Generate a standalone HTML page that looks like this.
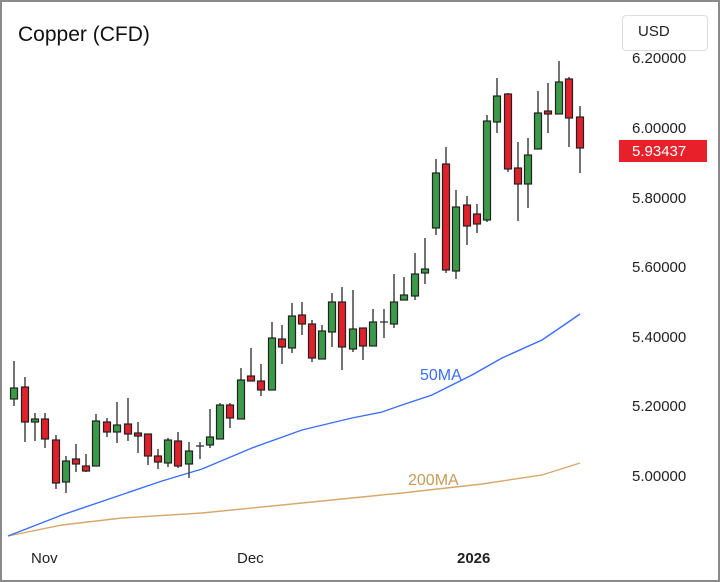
<!DOCTYPE html><html><head><style>
body{margin:0;background:#fff}
.w{position:relative;width:716px;height:578px;border:2px solid #8a8a8a;overflow:hidden;font-family:"Liberation Sans",sans-serif}
.t{position:absolute;font-size:15px;color:#222}
</style></head><body><div class="w">
<div class="t" style="left:16px;top:21px;font-size:21px;color:#111">Copper (CFD)</div>
<div style="position:absolute;left:620px;top:13px;width:84px;height:34px;border:1px solid #ddd;border-radius:4px"></div>
<div class="t" style="left:636px;top:21px">USD</div>
<div class="t" style="left:630px;top:48px">6.20000</div>
<div class="t" style="left:630px;top:118px">6.00000</div>
<div class="t" style="left:630px;top:188px">5.80000</div>
<div class="t" style="left:630px;top:257px">5.60000</div>
<div class="t" style="left:630px;top:327px">5.40000</div>
<div class="t" style="left:630px;top:396px">5.20000</div>
<div class="t" style="left:630px;top:466px">5.00000</div>
<div style="position:absolute;left:617px;top:138px;width:88px;height:22px;background:#e8202a"></div>
<div class="t" style="left:630px;top:141px;color:#fff">5.93437</div>
<div class="t" style="left:29px;top:548px">Nov</div>
<div class="t" style="left:235px;top:548px">Dec</div>
<div class="t" style="left:455px;top:548px;font-weight:bold">2026</div>
<svg width="716" height="578" style="position:absolute;left:0;top:0">
<polyline fill="none" stroke="#d4a86a" stroke-width="1.4" points="6,534 60,523 120,516 200,511 300,501 400,491 480,482 540,473 578,461"/>
<polyline fill="none" stroke="#3b6ef5" stroke-width="1.4" points="6,534 60,513 110,496 160,479 200,467 250,446 300,428 350,416 380,410 400,403 430,393 470,373 500,356 540,338 565,321 578,312"/>
<text x="418" y="378" fill="#3b6ef5" font-size="16" font-family="Liberation Sans">50MA</text>
<text x="406" y="483" fill="#c99a5a" font-size="16" font-family="Liberation Sans">200MA</text>
<g id="c"></g>
</svg>
<script>
var d=[[14,388,399,361,406,1],[25,387,422,377,442,0],[35,419,422,413,441,1],[45,419,439,413,448,0],[56,440,483,435,489,0],[66,461,482,456,493,1],[76,459,464,444,472,0],[86,466,471,454,472,0],[96,421,466,414,466,1],[107,422,432,418,437,0],[117,425,432,402,443,1],[128,424,434,398,441,0],[138,433,436,422,453,0],[148,434,456,434,465,0],[158,456,462,449,469,0],[168,440,463,438,467,1],[178,441,466,432,468,0],[189,451,464,442,478,1],[200,446,447,442,459,2],[210,437,445,409,448,1],[220,405,439,403,439,1],[230,405,418,403,428,0],[241,380,419,368,419,1],[251,376,381,348,381,0],[261,381,390,364,396,0],[272,338,390,322,390,1],[282,339,347,325,364,0],[292,316,348,303,353,1],[302,315,324,302,335,0],[312,324,358,320,362,0],[322,331,359,325,359,1],[332,302,332,293,347,1],[342,302,347,287,370,0],[353,329,349,290,352,1],[363,328,346,328,360,0],[373,322,346,309,346,1],[384,322,323,309,338,2],[394,302,324,274,328,1],[404,295,300,277,300,1],[415,274,296,253,300,1],[425,269,273,238,284,1],[436,173,228,159,235,1],[446,164,270,147,273,0],[456,207,271,190,279,1],[467,205,226,196,245,0],[477,214,224,204,233,0],[487,121,220,115,222,1],[497,96,122,78,133,1],[508,94,169,93,172,0],[518,168,184,142,221,0],[528,155,184,138,208,1],[538,113,149,91,149,1],[548,111,114,83,133,0],[559,82,114,61,114,1],[569,79,118,77,147,0],[580,117,148,106,173,0]];
var s='';d.forEach(function(c){var x=c[0]-2;s+='<line x1="'+x+'" x2="'+x+'" y1="'+(c[3]-2)+'" y2="'+(c[4]-2)+'" stroke="#444" stroke-width="1.5"/>';
if(c[5]==2)s+='<line x1="'+(x-4)+'" x2="'+(x+4)+'" y1="'+(c[1]-2)+'" y2="'+(c[1]-2)+'" stroke="#333" stroke-width="1.3"/>';
else s+='<rect x="'+(x-3.5)+'" y="'+(c[1]-2)+'" width="7" height="'+Math.max(2,c[2]-c[1])+'" fill="'+(c[5]?'#3a9a47':'#e0202a')+'" stroke="#222" stroke-width="1.2"/>';});
document.getElementById('c').innerHTML=s;
</script>
</div></body></html>
